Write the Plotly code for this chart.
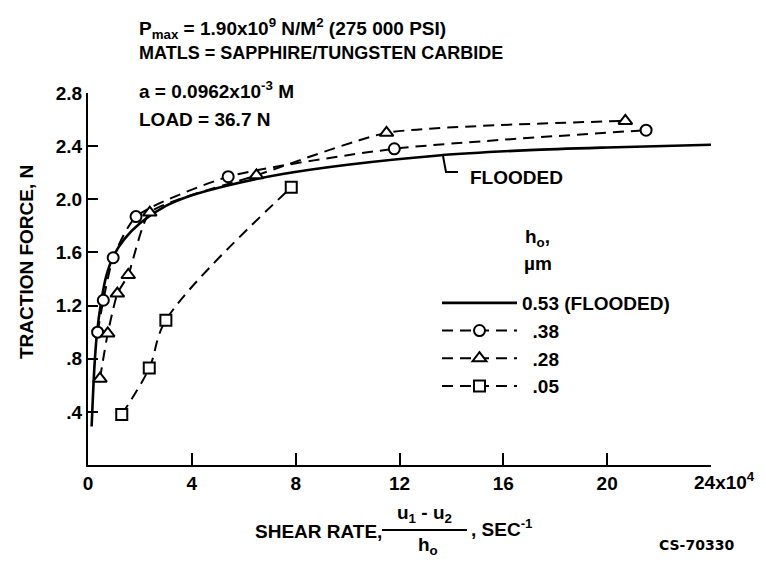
import plotly.graph_objects as go

# ---------------- data ----------------
flooded_x = [0.14, 0.25, 0.35, 0.5, 0.7, 1.0, 1.4, 2.0, 3.0, 4.0, 5.5, 7.5, 10, 13.5, 17, 20, 24]
flooded_y = [0.29, 0.75, 1.0, 1.22, 1.42, 1.58, 1.70, 1.82, 1.95, 2.03, 2.11, 2.19, 2.26, 2.33, 2.37, 2.39, 2.41]

h38_x = [0.37, 0.59, 0.97, 1.85, 5.4, 11.8, 21.5]
h38_y = [1.0, 1.24, 1.56, 1.87, 2.17, 2.38, 2.52]

h28_x = [0.46, 0.76, 1.13, 1.55, 2.38, 6.49, 11.5, 20.7]
h28_y = [0.65, 0.99, 1.29, 1.43, 1.90, 2.18, 2.50, 2.59]

h05_x = [1.3, 2.36, 3.0, 7.83]
h05_y = [0.38, 0.73, 1.09, 2.09]

x_tickvals = [0, 4, 8, 12, 16, 20, 24]
x_ticktext = ["0", "4", "8", "12", "16", "20", ""]
y_tickvals = [0.4, 0.8, 1.2, 1.6, 2.0, 2.4, 2.8]
y_ticktext = [".4", ".8", "1.2", "1.6", "2.0", "2.4", "2.8"]

legend_names = ["0.53 (FLOODED)", "\u00a0\u00a0.38", "\u00a0\u00a0.28", "\u00a0\u00a0.05"]

# ---------------- style ----------------
FONT = "Liberation Sans Narrow, Liberation Sans, Arial, sans-serif"
BLK = "black"
W, H = 766, 567
L, R, T, B = 88, 55, 93, 102
PW, PH = W - L - R, H - T - B


def px(x):
    return (x - L) / PW


def py(y):
    return (H - B - y) / PH


fig = go.Figure()
dash = "11px,7px"
fig.add_trace(go.Scatter(x=flooded_x, y=flooded_y, mode="lines", name=legend_names[0],
                         line=dict(color=BLK, width=2.6, shape="spline", smoothing=0.8)))
fig.add_trace(go.Scatter(x=h38_x, y=h38_y, mode="lines+markers", name=legend_names[1],
                         line=dict(color=BLK, width=2, dash=dash, shape="spline", smoothing=0.6),
                         marker=dict(symbol="circle", size=11, color="white",
                                     line=dict(color=BLK, width=2))))
fig.add_trace(go.Scatter(x=h28_x, y=h28_y, mode="lines+markers", name=legend_names[2],
                         line=dict(color=BLK, width=2, dash=dash, shape="spline", smoothing=0.5),
                         marker=dict(symbol="triangle-up", size=12, color="white",
                                     line=dict(color=BLK, width=2))))
fig.add_trace(go.Scatter(x=h05_x, y=h05_y, mode="lines+markers", name=legend_names[3],
                         line=dict(color=BLK, width=2, dash=dash, shape="spline", smoothing=1.0),
                         marker=dict(symbol="square", size=11, color="white",
                                     line=dict(color=BLK, width=2))))

tf = dict(family=FONT, size=19, color=BLK, weight="bold")

fig.update_layout(
    width=W, height=H,
    margin=dict(l=L, r=R, t=T, b=B),
    paper_bgcolor="white", plot_bgcolor="white",
    showlegend=True,
    legend=dict(x=px(437), y=py(284), xanchor="left", yanchor="top",
                font=dict(family=FONT, size=19, color=BLK, weight="bold"),
                itemwidth=75, bgcolor="rgba(0,0,0,0)", tracegroupgap=0),
    xaxis=dict(range=[0, 24], showline=True, linecolor=BLK, linewidth=2,
               ticks="inside", ticklen=12, tickwidth=2, tickcolor=BLK,
               tickvals=x_tickvals, ticktext=x_ticktext, tickfont=tf,
               showgrid=False, zeroline=False),
    yaxis=dict(range=[0, 2.8], showline=True, linecolor=BLK, linewidth=2,
               ticks="inside", ticklen=10, tickwidth=2, tickcolor=BLK,
               tickvals=y_tickvals, ticktext=y_ticktext, tickfont=tf,
               showgrid=False, zeroline=False),
)

ann = []


def add(text, x, y, xa="left", ya="middle", size=19, family=FONT, angle=0):
    ann.append(dict(text=text, x=px(x), y=py(y), xref="paper", yref="paper",
                    xanchor=xa, yanchor=ya, showarrow=False, textangle=angle,
                    font=dict(family=family, size=size, color=BLK, weight="bold")))


add("P<sub>max</sub> = 1.90x10<sup>9</sup> N/M<sup>2</sup> (275 000 PSI)", 137, 29)
add("MATLS = SAPPHIRE/TUNGSTEN CARBIDE", 137, 53, size=18)
add("a = 0.0962x10<sup>-3</sup> M", 137, 90)
add("LOAD = 36.7 N", 137, 119)
add("FLOODED", 468, 177)
add("h<sub>o</sub>,", 523, 238)
add("µm", 522, 263)
add("TRACTION FORCE, N", 26, 262, xa="center", angle=-90)
add("24x10<sup>4</sup>", 692, 481)
add("SHEAR RATE,", 253, 531)
add("u<sub>1</sub> - u<sub>2</sub>", 424, 514, xa="center")
add("h<sub>o</sub>", 428, 546, xa="center")
add(", SEC<sup>-1</sup>", 469, 528)
add("CS-70330", 657, 545, size=14, family="DejaVu Sans, sans-serif")
fig.update_layout(annotations=ann)

# fraction bar and FLOODED leader
fig.add_shape(type="line", xref="paper", yref="paper", x0=px(382), x1=px(467), y0=py(530), y1=py(530),
              line=dict(color=BLK, width=2))
fig.add_shape(type="path", xref="paper", yref="paper",
              path=f"M {px(443)} {py(156)} L {px(446)} {py(172)} L {px(458)} {py(172)}",
              line=dict(color=BLK, width=2))

fig.write_html("out.html")
